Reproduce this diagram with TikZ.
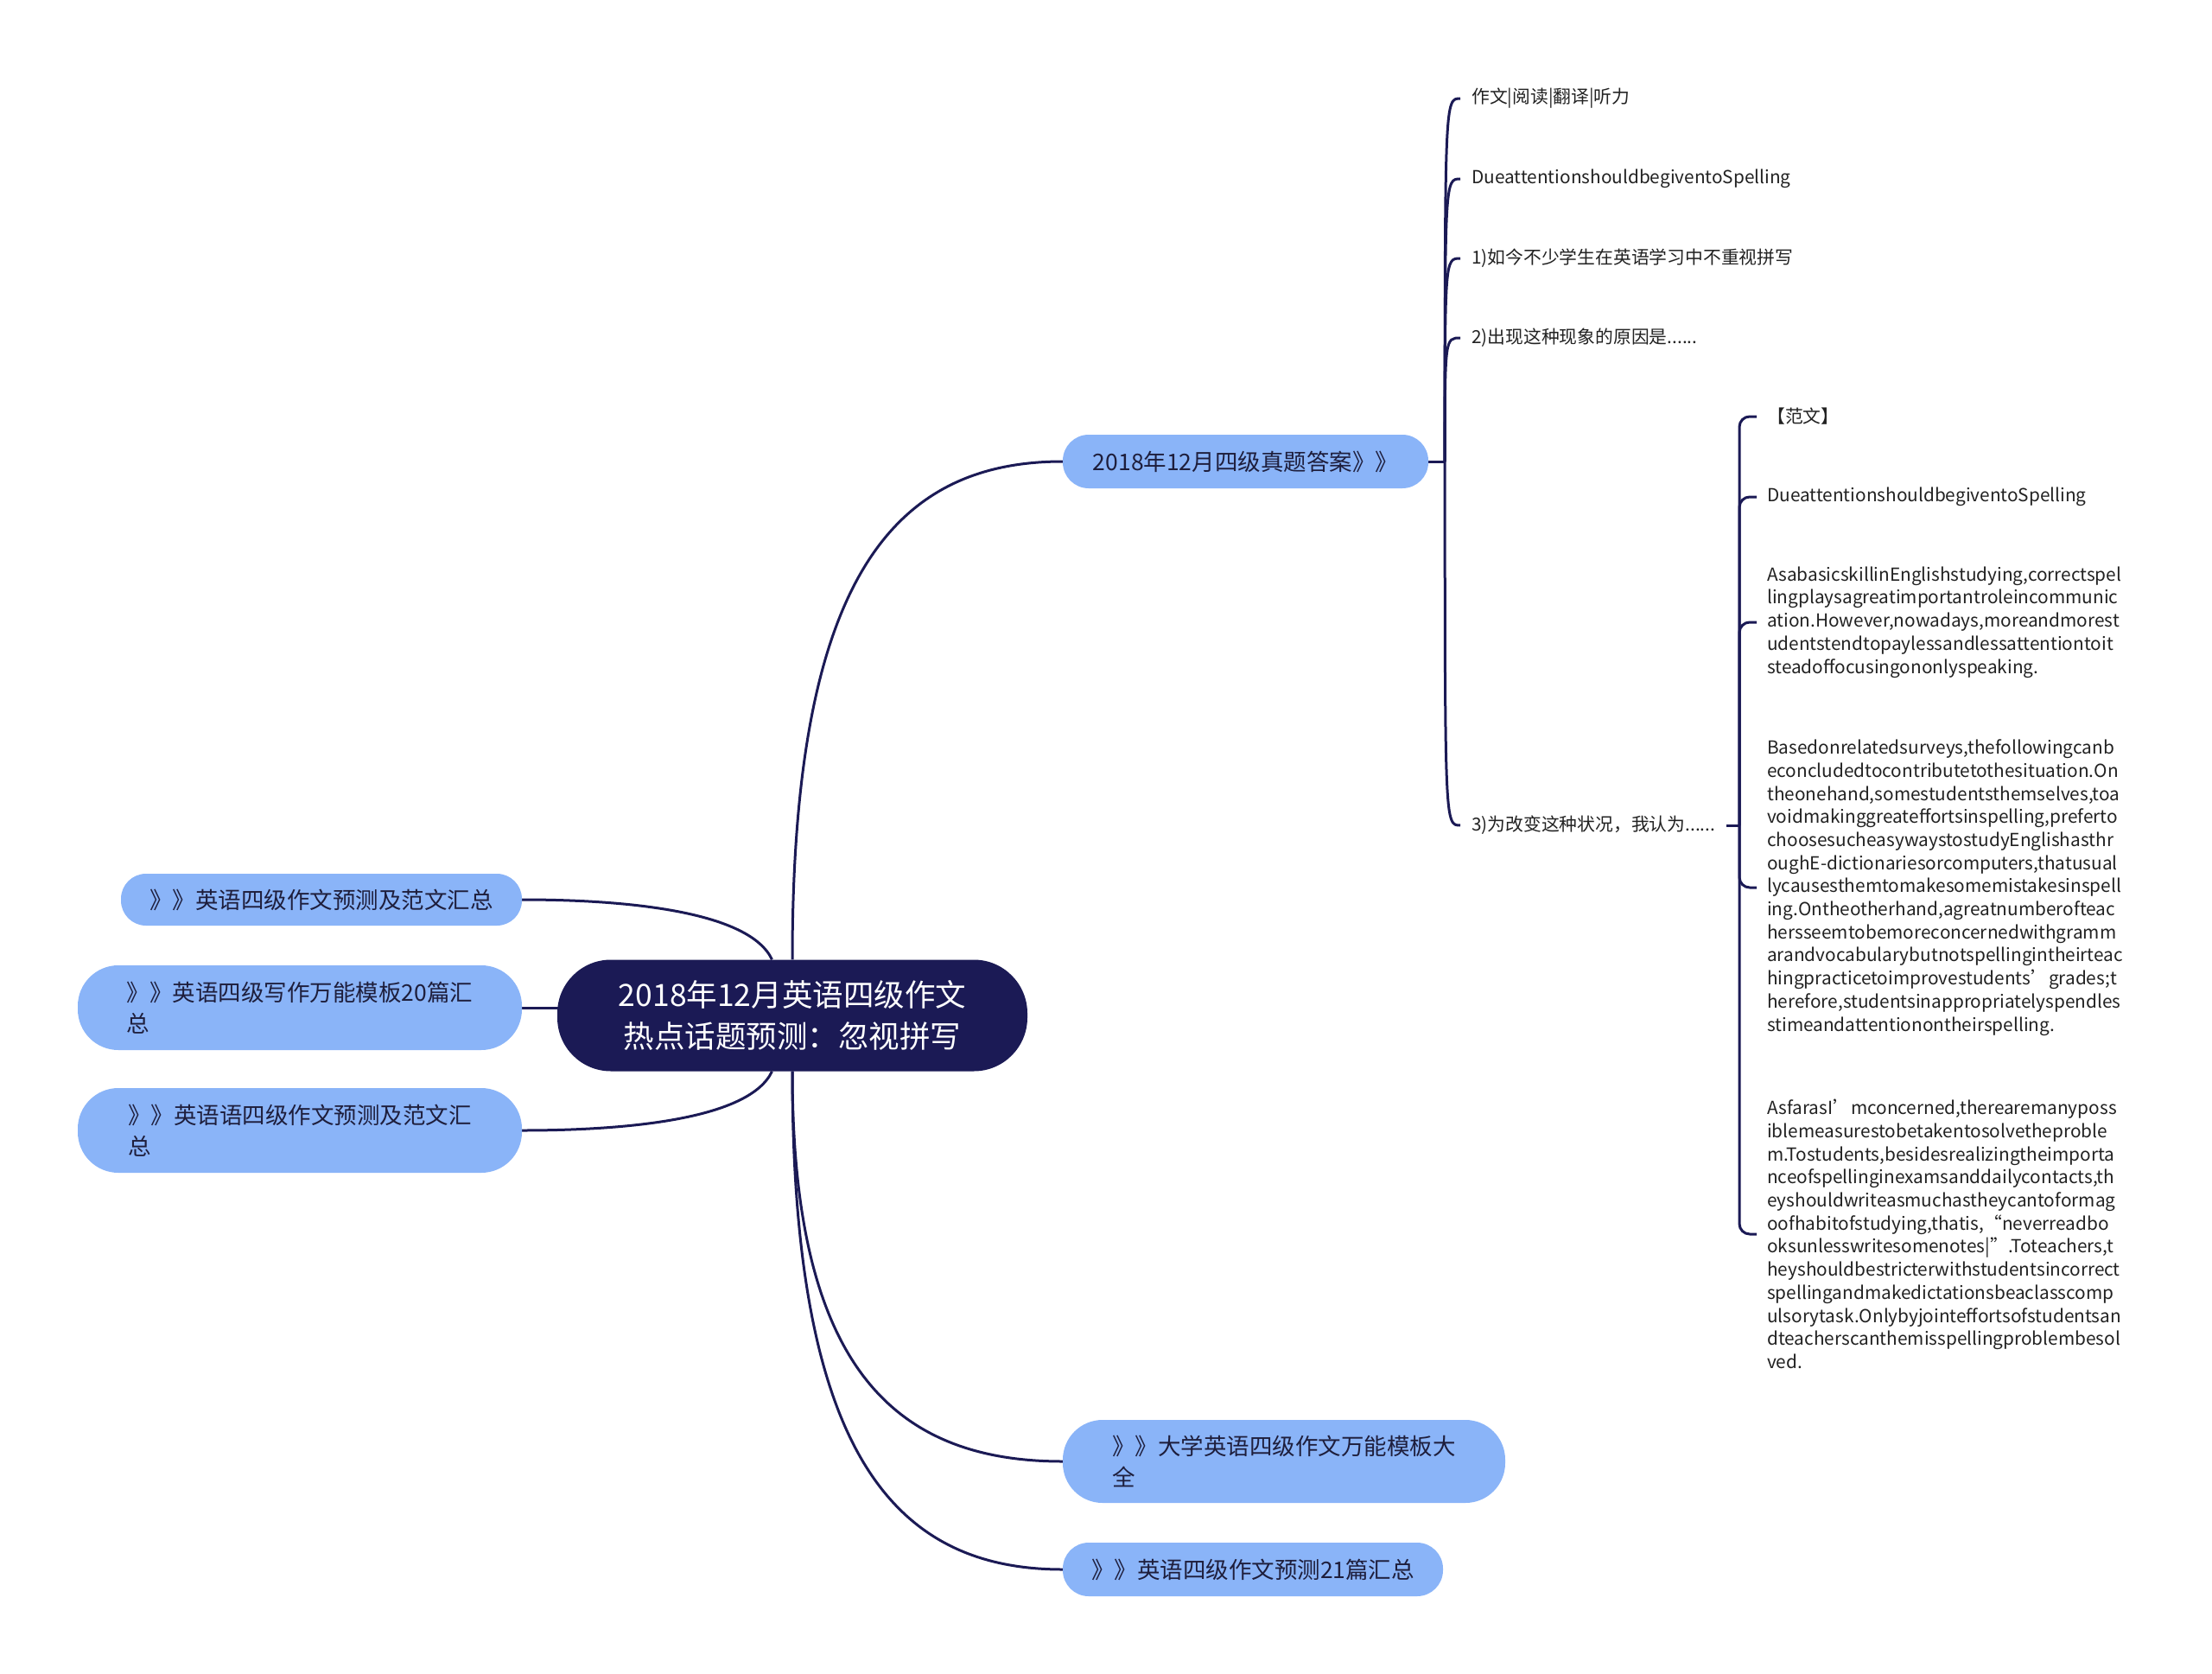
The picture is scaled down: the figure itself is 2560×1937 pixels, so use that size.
\documentclass[tikz,border=0pt]{standalone}
\usepackage{fontspec}
\setmainfont{Noto Sans CJK SC}
\usetikzlibrary{backgrounds}

\definecolor{navy}{HTML}{1B1A55}
\definecolor{pillblue}{HTML}{8AB4F8}
\definecolor{pilltext}{HTML}{1E1E3C}
\definecolor{leaftext}{HTML}{222222}

\begin{document}
\begin{tikzpicture}[x=1pt, y=1pt]

        \useasboundingbox (0,0) rectangle (2560,-1937);

        \node[fill=navy, text=white, rounded corners=62pt, minimum width=544pt, minimum height=129pt,
              align=center, font=\fontsize{35.5}{48}\selectfont] (root) at (917,-1175)
              {2018年12月英语四级作文\\热点话题预测：忽视拼写};

        \begin{scope}[every node/.style={fill=pillblue, text=pilltext, inner sep=0pt, align=left,
                      font=\fontsize{26.5}{36}\selectfont}]
          \node[minimum width=423pt, minimum height=62pt, rounded corners=30pt] (zhenti) at (1441.5,-534) {2018年12月四级真题答案》》};
          \node[minimum width=464pt, minimum height=60pt, rounded corners=29pt] (lt1) at (372,-1041) {》》英语四级作文预测及范文汇总};
          \node[minimum width=514pt, minimum height=98pt, rounded corners=47pt] (lt2) at (347,-1166) {》》英语四级写作万能模板20篇汇\\总};
          \node[minimum width=514pt, minimum height=98pt, rounded corners=47pt] (lt3) at (347,-1308) {》》英语语四级作文预测及范文汇\\总};
          \node[minimum width=512pt, minimum height=96pt, rounded corners=46pt] (rb1) at (1486,-1691) {》》大学英语四级作文万能模板大\\全};
          \node[minimum width=440pt, minimum height=62pt, rounded corners=30pt] (rb2) at (1450,-1816) {》》英语四级作文预测21篇汇总};
        \end{scope}

        \begin{scope}[every node/.style={anchor=west, inner xsep=13pt, inner ysep=0pt, text=leaftext, align=left,
                      font=\fontsize{20.8}{26.7}\selectfont}]
          \node (k1) at (1690,-114) {作文|阅读|翻译|听力};
          \node (k2) at (1690,-207) {DueattentionshouldbegiventoSpelling};
          \node (k3) at (1690,-299) {1)如今不少学生在英语学习中不重视拼写};
          \node (k4) at (1690,-391) {2)出现这种现象的原因是......};
          \node (k5) at (1690,-955) {3)为改变这种状况，我认为......};

          \node[inner xsep=12pt] (e1) at (2033,-482) {【范文】};
          \node[inner xsep=12pt] (e2) at (2033,-575) {DueattentionshouldbegiventoSpelling};
          \node[inner xsep=12pt] (e3) at (2033,-720) {AsabasicskillinEnglishstudying,correctspel\\
            lingplaysagreatimportantroleincommunic\\ation.However,nowadays,moreandmorest\\
            udentstendtopaylessandlessattentiontoit\\steadoffocusingononlyspeaking.};
          \node[inner xsep=12pt] (e4) at (2033,-1027) {Basedonrelatedsurveys,thefollowingcanb\\
            econcludedtocontributetothesituation.On\\theonehand,somestudentsthemselves,toa\\
            voidmakinggreateffortsinspelling,preferto\\choosesucheasywaystostudyEnglishasthr\\
            oughE-dictionariesorcomputers,thatusual\\lycausesthemtomakesomemistakesinspell\\
            ing.Ontheotherhand,agreatnumberofteac\\hersseemtobemoreconcernedwithgramm\\
            arandvocabularybutnotspellingintheirteac\\hingpracticetoimprovestudents’grades;t\\
            herefore,studentsinappropriatelyspendles\\stimeandattentionontheirspelling.};
          \node[inner xsep=12pt] (e5) at (2033,-1428) {AsfarasI’mconcerned,therearemanyposs\\
            iblemeasurestobetakentosolvetheproble\\m.Tostudents,besidesrealizingtheimporta\\
            nceofspellinginexamsanddailycontacts,th\\eyshouldwriteasmuchastheycantoformag\\
            oofhabitofstudying,thatis,“neverreadbo\\oksunlesswritesomenotes|”.Toteachers,t\\
            heyshouldbestricterwithstudentsincorrect\\spellingandmakedictationsbeaclasscomp\\
            ulsorytask.Onlybyjointeffortsofstudentsan\\dteacherscanthemisspellingproblembesol\\
            ved.};
        \end{scope}

        \coordinate (hub) at ([xshift=19pt]zhenti.east);
        \coordinate (sp) at (2013,-955);

        \begin{scope}[on background layer, every edge/.style={draw=navy, line width=3pt},
                      hook/.style={to path={.. controls (\tikztostart |- \tikztotarget) .. (\tikztotarget)}},
                      elbow/.style={rounded corners=12pt, to path={|- (\tikztotarget)}}]
          \fill[white] (0,0) rectangle (2560,-1937);

          \path (root.north) edge[out=90, in=180, out looseness=1.69, in looseness=0.78] (zhenti.west);
          \path (root.110) edge[out=115, in=0, out looseness=0.52, in looseness=1.08] (lt1.east);
          \path (lt2.east) edge (lt2.east -| root.center);
          \path (root.250) edge[out=-115, in=0, out looseness=0.52, in looseness=1.08] (lt3.east);
          \path (root.south) edge[out=-90, in=180, out looseness=1.57, in looseness=0.93] (rb1.west);
          \path (root.south) edge[out=-90, in=180, out looseness=1.69, in looseness=0.78] (rb2.west);

          \path (zhenti.east) edge (hub);
          \path (hub) edge[hook] (k1.west);
          \path (hub) edge[hook] (k2.west);
          \path (hub) edge[hook] (k3.west);
          \path (hub) edge[hook] (k4.west);
          \path (hub) edge[hook] (k5.west);

          \path (k5.east) edge (sp);
          \path (sp) edge[elbow] (e1.west);
          \path (sp) edge[elbow] (e2.west);
          \path (sp) edge[elbow] (e3.west);
          \path (sp) edge[elbow] (e4.west);
          \path (sp) edge[elbow] (e5.west);
        \end{scope}

      \end{tikzpicture}
\end{document}
